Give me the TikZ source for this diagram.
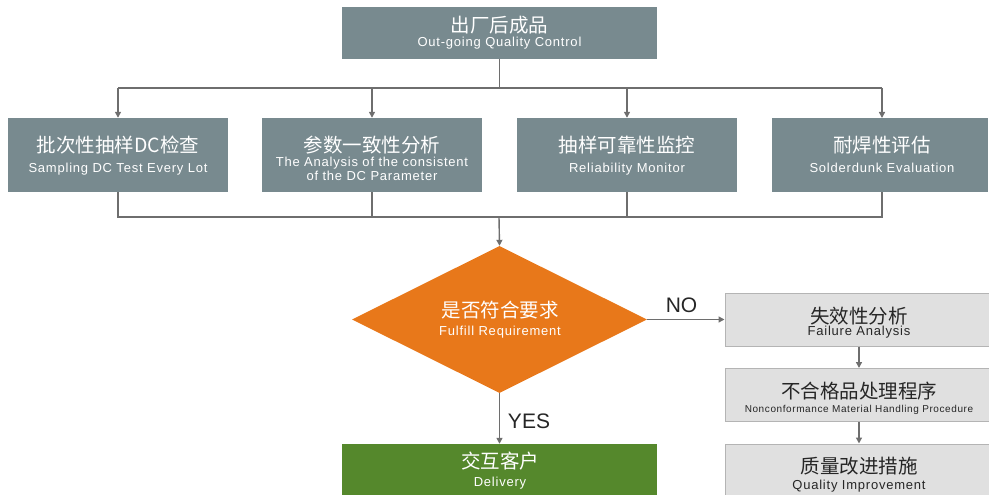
\documentclass[tikz,border=0pt]{standalone}
\usepackage{fontspec}
\setmainfont[LetterSpace=6]{Liberation Sans}
\newfontfamily\plain{Liberation Sans}
\newfontfamily\cjk{Noto Sans CJK SC}
\usetikzlibrary{shapes.geometric,arrows.meta}
\definecolor{slate}{HTML}{788A8F}
\definecolor{orng}{HTML}{E8781A}
\definecolor{grn}{HTML}{55882C}
\definecolor{lgray}{HTML}{E0E0E0}
\definecolor{lborder}{HTML}{B4B4B4}
\definecolor{conn}{HTML}{6E6E6E}
\begin{document}
\begin{tikzpicture}[x=1pt,y=-1pt,
  darkbox/.style={fill=slate,draw=none,minimum width=220pt,minimum height=74pt,inner sep=0pt},
  lightbox/.style={fill=lgray,draw=lborder,line width=1pt,minimum width=267pt,minimum height=53pt,inner sep=0pt},
  zh/.style={font=\cjk\fontsize{19.5}{20}\selectfont,inner sep=0pt},
  en/.style={font=\fontsize{13}{15}\selectfont,inner sep=0pt,anchor=base,align=center},
  w/.style={text=white},
  k/.style={text=black!85},
  link/.style={draw=conn,line width=1.4pt},
  arr/.style={link,-{Triangle[length=6pt,width=6pt]}},
  lbl/.style={font=\plain\fontsize{21}{22}\selectfont,text=black!85,inner sep=0pt,anchor=base}]
\useasboundingbox (0,0) rectangle (989,495);
% top
\node[darkbox,minimum width=315pt,minimum height=52pt] (top) at (499.5,33) {};
\node[zh,w] (topc) at (499.5,25.5) {出厂后成品};
\node[en,w] (tope) at (499.5,47) {Out-going Quality Control};
% four boxes
\node[darkbox] (b1) at (118,155) {};
\node[zh,w] (b1c) at (118,145.5) {批次性抽样DC检查};
\node[en,w] (b1e) at (118,172) {Sampling DC Test Every Lot};
\node[darkbox] (b2) at (372,155) {};
\node[zh,w] (b2c) at (372,145.5) {参数一致性分析};
\node[en,w] (b2e) at (372,166.7) {The Analysis of the consistent};
\node[en,w] (b2f) at (372,180.5) {of the DC Parameter};
\node[darkbox] (b3) at (627,155) {};
\node[zh,w] (b3c) at (627,145.5) {抽样可靠性监控};
\node[en,w] (b3e) at (627,172) {Reliability Monitor};
\node[darkbox,minimum width=216pt] (b4) at (880,155) {};
\node[zh,w] (b4c) at (882,145.5) {耐焊性评估};
\node[en,w] (b4e) at (882,172) {Solderdunk Evaluation};
% connectors top
\coordinate (split) at (499,88);
\coordinate (merge) at (499,217);
\draw[link] (top.south) -- (top.south |- split);
\draw[link] (118,88) -- (882,88);
\draw[arr] (118,88) -- (b1.north);
\draw[arr] (372,88) -- (b2.north);
\draw[arr] (627,88) -- (b3.north);
\draw[arr] (882,88) -- (882,118);
\draw[link] (b1.south) -- (118,217) -- (882,217) -- (882,192);
\draw[link] (b2.south) -- (372,217);
\draw[link] (b3.south) -- (627,217);
% decision
\node[diamond,fill=orng,draw=none,minimum width=295pt,minimum height=147pt,inner sep=0pt,aspect=2] (dec) at (499.5,319.5) {};
\node[zh,w] (decc) at (500,310) {是否符合要求};
\node[en,w] (dece) at (500,335) {Fulfill Requirement};
\draw[arr] (merge) -- (dec.north);
% right column
\node[lightbox] (f1) at (858.5,319.5) {};
\node[zh,k] (f1c) at (859,316) {失效性分析};
\node[en,k] (f1e) at (859,335.7) {Failure Analysis};
\node[lightbox] (f2) at (858.5,395) {};
\node[zh,k] (f2c) at (859,391) {不合格品处理程序};
\node[en,k,font=\fontsize{10}{12}\selectfont] (f2e) at (859,412.5) {Nonconformance Material Handling Procedure};
\node[lightbox] (f3) at (858.5,470.5) {};
\node[zh,k] (f3c) at (859,466.5) {质量改进措施};
\node[en,k] (f3e) at (859,489) {Quality Improvement};
\draw[arr] (dec.east) -- (f1.west);
\node[lbl] (no) at (681.5,312.7) {NO};
\draw[arr] (f1.south -| 859,0) -- (f2.north -| 859,0);
\draw[arr] (f2.south -| 859,0) -- (f3.north -| 859,0);
% delivery
\node[fill=grn,draw=none,minimum width=315pt,minimum height=52pt,inner sep=0pt] (del) at (499.5,470) {};
\node[zh,w] (delc) at (500,461.5) {交互客户};
\node[en,w] (dele) at (500,486) {Delivery};
\draw[arr] (dec.south) -- (del.north);
\node[lbl] (yes) at (529,428) {YES};
\end{tikzpicture}
\end{document}
